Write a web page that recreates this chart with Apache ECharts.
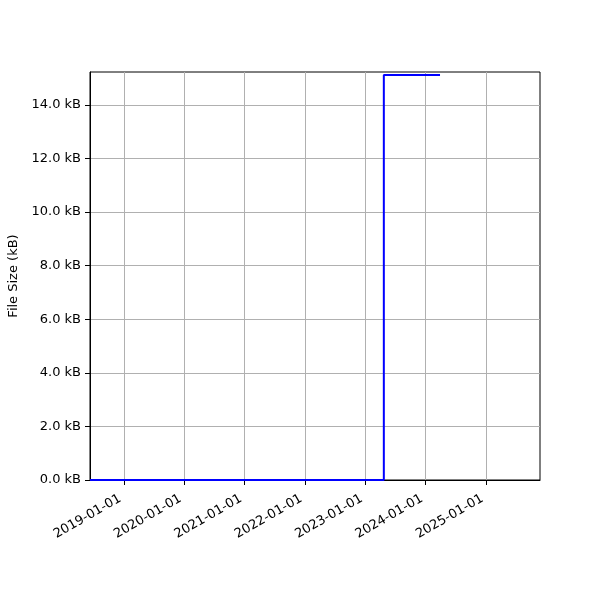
<!DOCTYPE html>
<html><head><meta charset="utf-8">
<script src="https://cdn.jsdelivr.net/npm/echarts@6/dist/echarts.min.js"></script>
<style>html,body{margin:0;padding:0;background:#fff}#c{width:600px;height:600px}</style>
</head><body><div id="c"></div>
<script>
const dates = ['2018-06-10', '2023-04-23', '2024-03-28'];
const sizesKB = [0, 15.12, 15.12];
const xTicks = ['2019-01-01','2020-01-01','2021-01-01','2022-01-01','2023-01-01','2024-01-01','2025-01-01'];
const xMin = '2018-06-10', xMax = '2025-11-23';
const yMax = 15.23;
const yTicks = [0,2,4,6,8,10,12,14];

const ts = s => new Date(s + 'T00:00:00Z').getTime();
const tickTs = xTicks.map(ts);
const chart = echarts.init(document.getElementById('c'), null, {renderer:'canvas'});
const font = 'DejaVu Sans';
chart.setOption({
  animation:false,
  grid:{left:90,right:60,top:72,bottom:120,outerBoundsMode:'none',containLabel:false,show:true,borderColor:'#000',borderWidth:1,backgroundColor:'transparent'},
  xAxis:{type:'value',min:ts(xMin),max:ts(xMax),
    axisLine:{show:true,lineStyle:{color:'#000',width:1}},
    axisTick:{show:true,length:5,lineStyle:{color:'#000'},customValues:tickTs},
    splitLine:{show:true,lineStyle:{color:'#b0b0b0',width:1}},
    axisLabel:{customValues:tickTs,rotate:30,margin:8,verticalAlign:'top',padding:[0,8,0,0],color:'#000',fontFamily:font,fontSize:13,
      formatter:v=>{const d=new Date(v);return d.getUTCFullYear()+'-'+String(d.getUTCMonth()+1).padStart(2,'0')+'-'+String(d.getUTCDate()).padStart(2,'0');}}
  },
  yAxis:{type:'value',min:0,max:yMax,name:'File Size (kB)',nameLocation:'middle',nameGap:69,
    nameTextStyle:{color:'#000',fontFamily:font,fontSize:13},
    axisLine:{show:true,lineStyle:{color:'#000'}},
    axisTick:{show:true,length:5,lineStyle:{color:'#000'},customValues:yTicks},
    splitLine:{show:true,lineStyle:{color:'#b0b0b0',width:1}},
    axisLabel:{customValues:yTicks,margin:9,color:'#000',fontFamily:font,fontSize:13,formatter:v=>v.toFixed(1)+' kB'}
  },
  series:[{type:'line',step:'end',showSymbol:false,lineStyle:{color:'#0000ff',width:2},
    data:dates.map((d,i)=>[ts(d),sizesKB[i]])}]
});
</script></body></html>
